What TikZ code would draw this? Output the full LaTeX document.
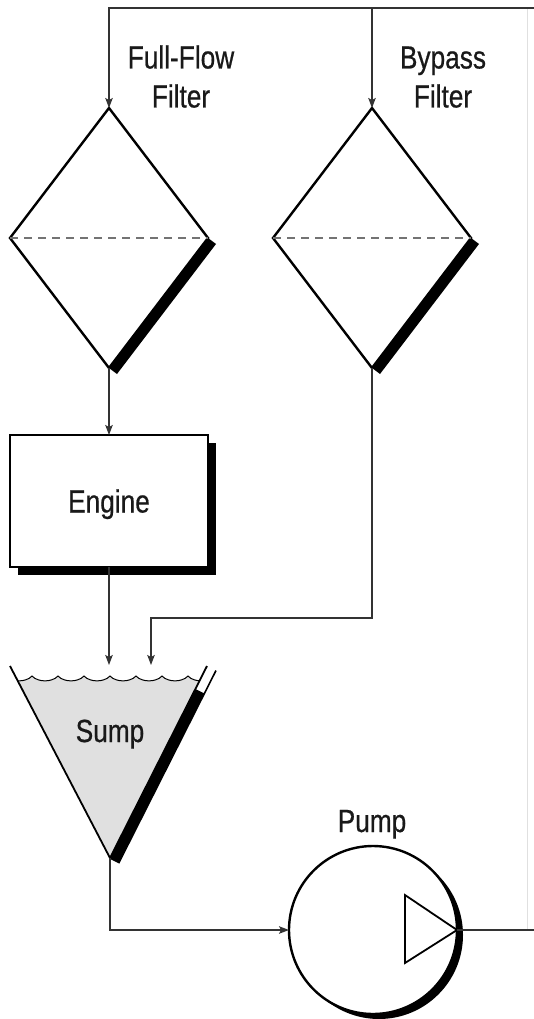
\documentclass[tikz,border=0pt]{standalone}
\usepackage{fontspec}
\setmainfont{Liberation Sans}[FakeStretch=0.82, FakeBold=0.6]
\usetikzlibrary{arrows.meta,calc,shapes.geometric}
\begin{document}
\begin{tikzpicture}[x=1pt,y=1pt,
  pipe/.style={draw=black!80, line width=1.3pt},
  flow/.style={pipe, -{Stealth[length=10pt,width=7.5pt,inset=2pt]}},
  outline/.style={draw=black, line width=2.4pt},
  lbl/.style={text=black!90, font=\fontsize{32}{39}\selectfont, inner sep=0pt, align=center},
  filterbox/.style={diamond, outline, fill=white, minimum width=198pt, minimum height=260pt, inner sep=0pt, outer sep=0pt},
  enginebox/.style={rectangle, outline, fill=white, minimum width=198pt, minimum height=132pt, inner sep=0pt, outer sep=0pt,
    text=black!90, font=\fontsize{32}{39}\selectfont, text height=23pt, text depth=0pt},
  pumpbody/.style={circle, outline, fill=white, minimum size=168pt, inner sep=0pt, outer sep=0pt},
  shade/.style={fill=black},
  media/.style={draw=black!55, line width=1.8pt, dash pattern=on 8pt off 6pt},
  water/.style={fill=black!12},
  faint/.style={draw=black!12, line width=0.8pt},
]
\useasboundingbox (0,0) rectangle (534,-1019);

% supply header and return riser
\coordinate (topR) at (534,-8);
\coordinate (riserTop) at (527,-8);
\coordinate (riserBot) at (527,-930);
\coordinate (outR) at (534,-930);
\draw[faint] (riserTop) -- (riserBot);

% full-flow filter
\node[filterbox] (ff) at (109,-238) {};
\fill[shade] (ff.east) -- ++(8,-6) -- ($(ff.south)+(8,-6)$) -- (ff.south) -- cycle;
\draw[media] (ff.west) -- (ff.east);
\node[lbl, anchor=south] (fflbl) at (181,-108) {Full-Flow\\Filter};

% bypass filter
\node[filterbox] (bp) at (372,-238) {};
\fill[shade] (bp.east) -- ++(8,-6) -- ($(bp.south)+(8,-6)$) -- (bp.south) -- cycle;
\draw[media] (bp.west) -- (bp.east);
\node[lbl, anchor=south] (bplbl) at (443,-108) {Bypass\\Filter};

% engine
\coordinate (engc) at (109,-501);
\fill[shade] ([shift={(8,-8)}]engc) ++(-99,-66) rectangle ++(198,132);
\node[enginebox] (eng) at (engc) {Engine};

% sump
\coordinate (sA) at (10,-666);
\coordinate (sB) at (207,-666);
\coordinate (sV) at (110,-858);
\begin{scope}
  \clip (sA) -- (sB) -- (sV) -- cycle;
  \fill[water] (6,-676) \foreach \k in {0,...,7} { .. controls ({12+26*\k},-682.5) and ({26+26*\k},-682.5) .. ({32+26*\k},-676) }
    -- (214,-900) -- (6,-900) -- cycle;
  \draw[black, line width=1pt] (6,-676) \foreach \k in {0,...,7} { .. controls ({12+26*\k},-682.5) and ({26+26*\k},-682.5) .. ({32+26*\k},-676) };
\end{scope}
\coordinate (sB2) at ($(sB)+(9,-4.5)$);
\coordinate (sV2) at ($(sV)+(9,-4.5)$);
\fill[shade] ($(sB)!0.12!(sV)$) -- ($(sB2)!0.12!(sV2)$) -- (sV2) -- (sV) -- cycle;
\draw[black, line width=1.6pt] (sB2) -- (sV2) -- (sV);
\draw[black, line width=1.8pt] (sA) -- (sV) -- (sB);
\node[lbl, anchor=base] (sumplbl) at (110,-742) {Sump};
\coordinate (sumpin1) at (109,-665);
\coordinate (sumpin2) at (151,-665);
\coordinate (bendy) at (0,-618);

% pump
\coordinate (pc) at (373,-930);
\fill[shade] ($(pc)+(6,-5)$) circle (84pt);
\node[pumpbody] (pump) at (pc) {};
\draw[black, line width=1.8pt, line join=miter] (405,-895) -- (405,-963) -- (pump.east) -- cycle;
\node[lbl, anchor=base] (pumplbl) at (372,-832) {Pump};

% piping
\draw[flow] (topR) -| (ff.north);
\draw[flow] (bp.north |- topR) -- (bp.north);
\draw[flow] (ff.south) -- (eng.north);
\draw[flow] (eng.south) -- (sumpin1);
\draw[flow] (bp.south) -- (bp.south |- bendy) -| (sumpin2);
\draw[flow] (sV) -- (sV |- pump.west) -- (pump.west);
\draw[pipe] (pump.east) -- (outR);
\end{tikzpicture}
\end{document}
